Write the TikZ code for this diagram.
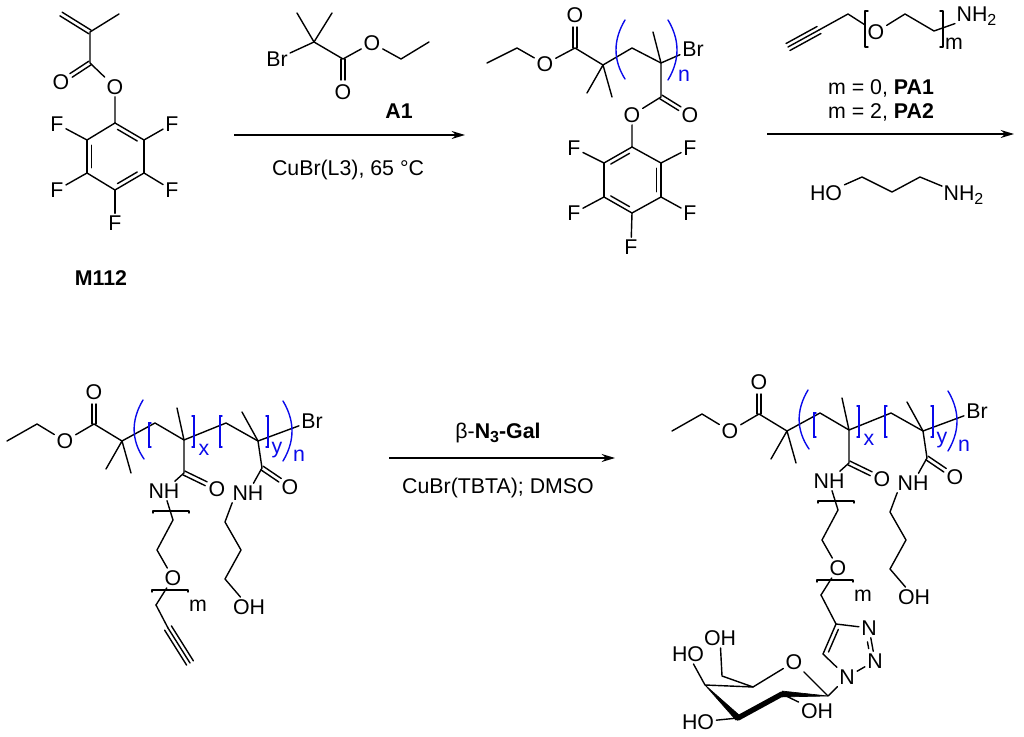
\documentclass[tikz,border=0pt]{standalone}
\usepackage{fontspec}
\setmainfont{Liberation Sans}
\usetikzlibrary{calc,arrows.meta}
\definecolor{polyblue}{RGB}{10,10,235}
\newcommand{\subs}[1]{\raisebox{-3pt}{\fontsize{12}{12}\selectfont #1}}
% centred double bond: from a to b, shortened by #3 at b
\newcommand{\dblc}[3]{%
  \draw[bond,shorten >=#3] ($(#1)!1.6pt!90:(#2)$) -- ($(#2)!1.6pt!-90:(#1)$);
  \draw[bond,shorten >=#3] ($(#1)!1.6pt!-90:(#2)$) -- ($(#2)!1.6pt!90:(#1)$);}
% inner line of a ring bond, a to b clockwise on the page; shortened by #3 at both ends
\newcommand{\ringdbl}[3]{%
  \draw[bond] (#1) -- (#2);
  \draw[bond,shorten <=#3,shorten >=#3] ($(#1)!3.2pt!-90:(#2)$) -- ($(#2)!3.2pt!90:(#1)$);}
\newcommand{\triple}[2]{%
  \draw[bond] (#1) -- (#2);
  \draw[bond] ($(#1)!3pt!90:(#2)$) -- ($(#2)!3pt!-90:(#1)$);
  \draw[bond] ($(#1)!3pt!-90:(#2)$) -- ($(#2)!3pt!90:(#1)$);}
% polymer drawn twice, #1 = name prefix
\newcommand{\polymer}[1]{%
  \coordinate (#1c1) at (7,441);
  \coordinate (#1c2) at (37,424);
  \node[atom] (#1o1) at (65,441) {O};
  \coordinate (#1c3) at (94,424);
  \node[atom] (#1o2) at (94,392) {O};
  \coordinate (#1c4) at (122,441);
  \coordinate (#1m1) at (106,469);
  \coordinate (#1m2) at (131,473);
  \coordinate (#1c5) at (155,423);
  \coordinate (#1c6) at (184,440);
  \coordinate (#1m3) at (177,408);
  \coordinate (#1c7) at (226,423);
  \coordinate (#1c8) at (258,441);
  \coordinate (#1m4) at (242,412);
  \node[atom] (#1br) at (312,421) {Br};
  \coordinate (#1c9) at (184,473);
  \node[atom] (#1o3) at (217,489) {O};
  \node[atom] (#1nx) at (164,491) {NH};
  \coordinate (#1c10) at (262,468);
  \node[atom] (#1o4) at (290,487) {O};
  \node[atom] (#1ny) at (248,493) {NH};
  \coordinate (#1x1) at (173,520);
  \coordinate (#1x2) at (157,550);
  \node[atom] (#1o5) at (173,578) {O};
  \coordinate (#1x3) at (156,605);
  \coordinate (#1y1) at (225,522);
  \coordinate (#1y2) at (241,550);
  \coordinate (#1y3) at (225,579);
  \node[atom] (#1oh) at (249,607) {OH};
  \node[label] (#1m) at (198,606) {m};
  \node[bluelabel] (#1lx) at (204,450) {x};
  \node[bluelabel] (#1ly) at (277,450) {y};
  \node[bluelabel] (#1ln) at (299,456) {n};
  \draw[bond] (#1c1) -- (#1c2) -- (#1o1) -- (#1c3) -- (#1c4) -- (#1c5) -- (#1c6) -- (#1c7) -- (#1c8) -- (#1br);
  \dblc{#1c3}{#1o2}{9pt}
  \draw[bond] (#1m1) -- (#1c4) -- (#1m2);
  \draw[bond] (#1m3) -- (#1c6) -- (#1c9) -- (#1nx) -- (#1x1) -- (#1x2) -- (#1o5) -- (#1x3);
  \dblc{#1c9}{#1o3}{9pt}
  \draw[bond] (#1m4) -- (#1c8) -- (#1c10) -- (#1ny);
  \dblc{#1c10}{#1o4}{9pt}
  \draw[bond] ([xshift=1.5pt]#1ny.south west) -- (#1y1) -- (#1y2) -- (#1y3) -- (#1oh);
  \draw[bond] (153,513) -- (153,511) -- (189,511) -- (189,513);
  \draw[bond] (152,592) -- (152,590) -- (188,590) -- (188,592);
  \draw[blueline] (143,400) .. controls (131,420) and (131,440) .. (144,459);
  \draw[blueline] (283,401) .. controls (295,421) and (295,441) .. (283,461);
  \draw[blueline] (151,423) -- (149,423) -- (149,447) -- (151,447);
  \draw[blueline] (192,416) -- (194,416) -- (194,447) -- (192,447);
  \draw[blueline] (222,416) -- (220,416) -- (220,447) -- (222,447);
  \draw[blueline] (266,416) -- (268,416) -- (268,447) -- (266,447);
}
\tikzset{
  x=0.75pt,y=-0.75pt,
  bond/.style={line width=1.05pt,line cap=round,line join=round,black},
  blueline/.style={line width=1.05pt,polyblue,line cap=round},
  atom/.style={inner sep=1.6pt,font=\fontsize{16}{18}\selectfont},
  label/.style={inner sep=0pt,font=\fontsize{16}{18}\selectfont},
  boldlabel/.style={inner sep=0pt,font=\fontsize{16}{18}\selectfont\bfseries},
  bluelabel/.style={inner sep=0pt,text=polyblue,font=\fontsize{16}{18}\selectfont},
  rxn/.style={line width=1.05pt,-{Stealth[length=10pt,width=6pt]}},
}
\begin{document}
\begin{tikzpicture}
\useasboundingbox (0,0) rectangle (1024,737);
\fill[white] (0,0) rectangle (1024,737);

%% M112
\coordinate (a1) at (61,14);
\coordinate (a2) at (90,32);
\coordinate (a3) at (119,14);
\coordinate (a4) at (90,63);
\node[atom] (ao1) at (61,82) {O};
\node[atom] (ao2) at (115,87) {O};
\coordinate (r1) at (115,123);
\coordinate (r2) at (144,140);
\coordinate (r3) at (144,173);
\coordinate (r4) at (115,190);
\coordinate (r5) at (87,173);
\coordinate (r6) at (87,140);
\node[atom] (f1) at (57,124) {F};
\node[atom] (f2) at (172,124) {F};
\node[atom] (f3) at (57,190) {F};
\node[atom] (f4) at (172,190) {F};
\node[atom] (f5) at (115,223) {F};
\node[boldlabel] (lm112) at (101,278) {M112};
\dblc{a2}{a1}{0pt}
\draw[bond] (a3) -- (a2) -- (a4) -- (ao2) -- (r1);
\dblc{a4}{ao1}{9pt}
\ringdbl{r1}{r2}{4pt}
\draw[bond] (r2) -- (r3);
\ringdbl{r3}{r4}{4pt}
\draw[bond] (r4) -- (r5);
\ringdbl{r5}{r6}{4pt}
\draw[bond] (r6) -- (r1);
\draw[bond] (r6) -- (f1);
\draw[bond] (r2) -- (f2);
\draw[bond] (r5) -- (f3);
\draw[bond] (r3) -- (f4);
\draw[bond] (r4) -- (f5);

%% A1
\coordinate (b1) at (314,42);
\coordinate (b2) at (297,13);
\coordinate (b3) at (332,13);
\node[atom] (bbr) at (277,59) {Br};
\coordinate (b4) at (343,59);
\node[atom] (bo1) at (343,92) {O};
\node[atom] (bo2) at (372,43) {O};
\coordinate (b5) at (401,59);
\coordinate (b6) at (429,42);
\node[boldlabel] (la1) at (399,111) {A1};
\draw[bond] (b2) -- (b1) -- (b3);
\draw[bond] (bbr) -- (b1) -- (b4) -- (bo2) -- (b5) -- (b6);
\dblc{b4}{bo1}{9pt}

%% arrow 1
\coordinate (s1) at (234,135);
\coordinate (e1) at (465,135);
\draw[rxn] (s1) -- (e1);
\node[label] (t1) at (348,170) {CuBr(L3), 65 °C};

%% polymer 1
\coordinate (p1) at (487,63);
\coordinate (p2) at (517,48);
\node[atom] (po1) at (545,64) {O};
\coordinate (p3) at (575,48);
\node[atom] (po2) at (575,15) {O};
\coordinate (p4) at (603,65);
\coordinate (pm1) at (587,93);
\coordinate (pm2) at (612,97);
\coordinate (p5) at (632,48);
\coordinate (p6) at (661,63);
\coordinate (pm3) at (653,32);
\node[atom] (pbr) at (693,49) {Br};
\coordinate (p7) at (661,97);
\node[atom] (po3) at (690,115) {O};
\node[atom] (po4) at (632,115) {O};
\coordinate (q1) at (632,147);
\coordinate (q2) at (661,163);
\coordinate (q3) at (661,197);
\coordinate (q4) at (632,213);
\coordinate (q5) at (604,197);
\coordinate (q6) at (604,163);
\node[atom] (g1) at (574,148) {F};
\node[atom] (g2) at (690,148) {F};
\node[atom] (g3) at (574,213) {F};
\node[atom] (g4) at (690,213) {F};
\node[atom] (g5) at (631,247) {F};
\node[bluelabel] (pn) at (684,76) {n};
\draw[bond] (p1) -- (p2) -- (po1) -- (p3) -- (p4) -- (p5) -- (p6) -- (pbr);
\dblc{p3}{po2}{9pt}
\draw[bond] (pm1) -- (p4) -- (pm2);
\draw[bond] (pm3) -- (p6) -- (p7) -- (po4) -- (q1);
\dblc{p7}{po3}{9pt}
\ringdbl{q6}{q1}{4pt}
\draw[bond] (q1) -- (q2);
\ringdbl{q2}{q3}{4pt}
\draw[bond] (q3) -- (q4);
\ringdbl{q4}{q5}{4pt}
\draw[bond] (q5) -- (q6);
\draw[bond] (q6) -- (g1);
\draw[bond] (q2) -- (g2);
\draw[bond] (q5) -- (g3);
\draw[bond] (q3) -- (g4);
\draw[bond] (q4) -- (g5);
\draw[blueline] (625,20) .. controls (613,40) and (613,60) .. (625,79);
\draw[blueline] (668,20) .. controls (680,40) and (680,60) .. (668,80);

%% PA reagent
\coordinate (c1) at (788,47);
\coordinate (c2) at (819,30);
\coordinate (c3) at (848,14);
\node[atom] (co) at (876,32) {O};
\coordinate (c4) at (905,14);
\coordinate (c5) at (934,31);
\node[atom,anchor=west,inner sep=1pt] (cn) at (955,16) {NH\subs{2}};
\node[label] (cm) at (954,44) {m};
\triple{c1}{c2}
\draw[bond] (c2) -- (c3) -- (co) -- (c4) -- (c5) -- (cn);
\draw[bond] (868,11) -- (865,11) -- (865,47) -- (868,47);
\draw[bond] (940,11) -- (943,11) -- (943,47) -- (940,47);
\node[label] (t2) at (881,88) {m = 0, \textbf{PA1}};
\node[label] (t3) at (881,112) {m = 2, \textbf{PA2}};

%% arrow 2
\coordinate (s2) at (767,134);
\coordinate (e2) at (1014,134);
\draw[rxn] (s2) -- (e2);

%% aminopropanol
\node[atom] (dho) at (826,193) {HO};
\coordinate (d1) at (862,177);
\coordinate (d2) at (892,192);
\coordinate (d3) at (920,177);
\node[atom,anchor=west,inner sep=1pt] (dn) at (942,195) {NH\subs{2}};
\draw[bond] (dho) -- (d1) -- (d2) -- (d3) -- (dn);

%% polymer 2
\polymer{u}
\coordinate (u1) at (168,628);
\coordinate (u2) at (190,663);
\draw[bond] (ux3) -- (u1);
\triple{u1}{u2}

%% arrow 3
\coordinate (s3) at (389,458);
\coordinate (e3) at (615,458);
\draw[rxn] (s3) -- (e3);
\node[label] (t4) at (498,433) {β-\textbf{N\subs{3}-Gal}};
\node[label] (t5) at (498,488) {CuBr(TBTA); DMSO};

%% polymer 3
\begin{scope}[shift={(665,-10)}]
\polymer{w}
\end{scope}

%% triazole
\coordinate (tc4) at (836,624);
\node[atom] (tn3) at (869,628) {N};
\node[atom] (tn2) at (875,661) {N};
\node[atom] (tn1) at (847,677) {N};
\coordinate (tc5) at (823,654);
\draw[bond] (wx3) -- (tc4) -- (tn3);
\draw[bond] (tn3) -- (tn2);
\draw[bond,shorten <=10pt,shorten >=10pt] ($(tn3)!3pt!-90:(tn2)$) -- ($(tn2)!3pt!90:(tn3)$);
\draw[bond] (tn2) -- (tn1) -- (tc5);
\ringdbl{tc5}{tc4}{3pt}

%% galactose
\coordinate (h1) at (828,696);
\node[atom] (ho) at (794,662) {O};
\coordinate (h5) at (753,687);
\coordinate (h6) at (722,676);
\node[atom] (hoh6) at (720,638) {OH};
\coordinate (h4) at (705,685);
\node[atom] (hoh4) at (688,654) {HO};
\coordinate (h3) at (738,718);
\node[atom] (hoh3) at (698,722) {HO};
\coordinate (h2) at (782,694);
\node[atom] (hoh2) at (817,711) {OH};
\draw[bond] (tn1) -- (h1) -- (ho) -- (h5) -- (h6) -- (hoh6);
\draw[bond] (h5) -- (h4) -- (hoh4);
\draw[bond] (h3) -- (hoh3);
\draw[bond] (h2) -- (hoh2);
\fill[black,draw=black,line width=.5pt,line join=round] (h4) -- ($(h3)!2.2pt!90:(h4)$) -- ($(h3)!2.2pt!-90:(h4)$) -- cycle;
\draw[black,line width=4pt,line cap=round] (h3) -- (h2);
\fill[black,draw=black,line width=.5pt,line join=round] (h1) -- ($(h2)!2.2pt!90:(h1)$) -- ($(h2)!2.2pt!-90:(h1)$) -- cycle;
\end{tikzpicture}
\end{document}
